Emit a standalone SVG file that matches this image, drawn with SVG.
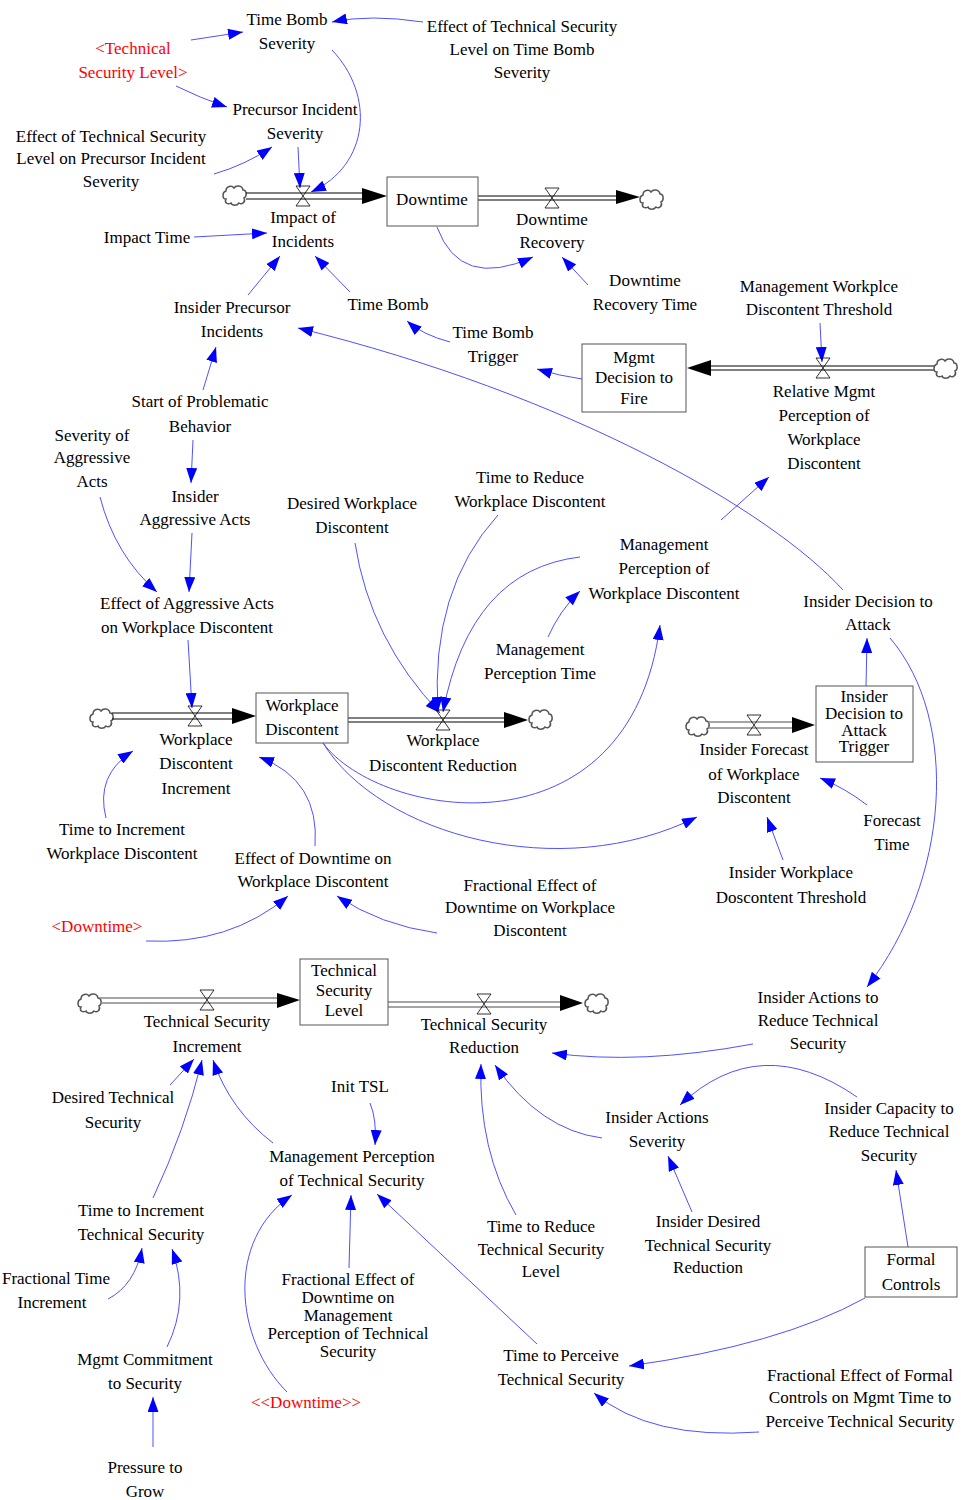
<svg xmlns="http://www.w3.org/2000/svg" width="961" height="1500" viewBox="0 0 961 1500" font-family="Liberation Serif, Times New Roman, serif">
<style>
text{font-family:"Liberation Serif","Times New Roman",serif;font-size:17px;text-anchor:middle;fill:#000}
.r{fill:#ff0000}
.c{fill:none;stroke:#5050ff;stroke-width:1;marker-end:url(#a)}
.box{fill:#fff;stroke:#555;stroke-width:1}
.pipe{stroke:#000;stroke-width:1;fill:none}
.gpipe{stroke:#888;stroke-width:1.5;fill:none}
.head{fill:#000}
.valve{fill:none;stroke:#000;stroke-width:0.8}
.cloud{fill:#fff;stroke:#555;stroke-width:1.5}
</style>
<defs>
<marker id="a" markerUnits="userSpaceOnUse" markerWidth="15" markerHeight="11" viewBox="0 0 15 11" refX="15" refY="5.5" orient="auto"><path d="M0,0 L15,5.5 L0,11 Z" fill="#0000ff"/></marker>
<path id="cl" class="cloud" d="M-8,4 C-12,4 -12,-3 -8,-4 C-8,-9 -2,-10 0,-7 C2,-10 8,-10 9,-5 C13,-5 13,2 10,3 C12,7 8,10 5,8 C3,11 -2,11 -3,8 C-6,10 -10,8 -8,4 Z"/>
<path id="vl" class="valve" d="M-7,-10 H7 L-7,10 H7 Z"/>
</defs>
<rect width="961" height="1500" fill="#fff"/>

<g id="flows">
<use href="#cl" x="234" y="195"/>
<path class="pipe" d="M246,193 H362 M246,199 H362"/>
<polygon class="head" points="362,188 387,196 362,204"/>
<path class="pipe" d="M478,196 H616 M478,200 H616"/>
<polygon class="head" points="616,190 640,197 616,204"/>
<use href="#cl" x="651" y="199"/>
<path class="pipe" d="M711,366 H934 M711,370 H934"/>
<polygon class="head" points="711,360 687,368 711,376"/>
<use href="#cl" x="945" y="368"/>
<use href="#cl" x="101" y="718"/>
<path class="pipe" d="M112,713 H232 M112,719 H232"/>
<polygon class="head" points="232,708 256,716 232,724"/>
<path class="pipe" d="M348,718 H504 M348,722 H504"/>
<polygon class="head" points="504,712 528,720 504,728"/>
<use href="#cl" x="540" y="719"/>
<use href="#cl" x="697" y="726"/>
<path class="gpipe" d="M708,722 H792 M708,728 H792"/>
<polygon class="head" points="792,717 815,725 792,733"/>
<use href="#cl" x="89" y="1003"/>
<path class="gpipe" d="M100,998 H277 M100,1003 H277"/>
<polygon class="head" points="277,993 300,1000 277,1008"/>
<path class="gpipe" d="M388,1002 H560 M388,1007 H560"/>
<polygon class="head" points="560,995 583,1003 560,1011"/>
<use href="#cl" x="596" y="1003"/>
</g>

<g id="connectors">
<path class="c" d="M191,40 L243,32"/>
<path class="c" d="M423,22 Q370,14 332,22"/>
<path class="c" d="M176,86 Q200,98 227,107"/>
<path class="c" d="M214,174 Q245,165 272,147"/>
<path class="c" d="M332,50 C375,95 370,165 311,192"/>
<path class="c" d="M298,147 L300,188"/>
<path class="c" d="M194,237 L267,233"/>
<path class="c" d="M248,295 L280,256"/>
<path class="c" d="M350,292 L315,256"/>
<path class="c" d="M437,227 Q460,290 533,257"/>
<path class="c" d="M588,285 L562,257"/>
<path class="c" d="M450,342 Q423,335 407,321"/>
<path class="c" d="M582,379 Q560,376 537,369"/>
<path class="c" d="M843,590 C770,510 570,395 298,328"/>
<path class="c" d="M820,323 L822,362"/>
<path class="c" d="M203,390 L216,347"/>
<path class="c" d="M193,440 L191,483"/>
<path class="c" d="M100,497 Q115,555 157,592"/>
<path class="c" d="M192,533 L189,592"/>
<path class="c" d="M188,640 L192,708"/>
<path class="c" d="M355,543 Q370,640 440,713"/>
<path class="c" d="M498,515 Q430,590 438,712"/>
<path class="c" d="M580,557 Q470,570 443,712"/>
<path class="c" d="M548,637 Q560,610 580,591"/>
<path class="c" d="M721,520 L769,477"/>
<path class="c" d="M323,743 C380,820 630,860 660,625"/>
<path class="c" d="M323,743 C380,835 560,885 697,817"/>
<path class="c" d="M106,818 Q95,775 133,751"/>
<path class="c" d="M315,846 Q320,780 259,757"/>
<path class="c" d="M146,941 Q230,945 288,896"/>
<path class="c" d="M437,933 Q380,925 337,896"/>
<path class="c" d="M866,687 L867,638"/>
<path class="c" d="M867,805 Q845,788 820,778"/>
<path class="c" d="M783,860 L767,817"/>
<path class="c" d="M890,638 C960,720 950,880 867,987"/>
<path class="c" d="M753,1044 Q640,1065 552,1053"/>
<path class="c" d="M857,1097 Q760,1030 680,1105"/>
<path class="c" d="M602,1138 Q540,1130 495,1065"/>
<path class="c" d="M516,1215 Q478,1150 481,1064"/>
<path class="c" d="M692,1212 L668,1156"/>
<path class="c" d="M908,1247 L896,1170"/>
<path class="c" d="M865,1298 Q780,1345 629,1366"/>
<path class="c" d="M759,1432 Q650,1440 594,1393"/>
<path class="c" d="M537,1344 L377,1194"/>
<path class="c" d="M349,1268 L351,1195"/>
<path class="c" d="M287,1392 C235,1340 225,1240 292,1195"/>
<path class="c" d="M370,1103 Q377,1120 375,1145"/>
<path class="c" d="M273,1143 Q230,1110 213,1060"/>
<path class="c" d="M170,1085 L194,1059"/>
<path class="c" d="M153,1198 Q185,1130 202,1060"/>
<path class="c" d="M108,1299 Q135,1285 142,1248"/>
<path class="c" d="M167,1347 Q190,1300 172,1249"/>
<path class="c" d="M153,1447 L153,1397"/>
</g>

<g id="n_tbs"><text x="287" y="25">Time Bomb<tspan x="287" y="49">Severity</tspan></text></g>
<g id="n_tsl_shadow"><text class="r" x="133" y="54">&lt;Technical<tspan x="133" y="78">Security Level&gt;</tspan></text></g>
<g id="n_etb"><text x="522" y="32">Effect of Technical Security<tspan x="522" y="55">Level on Time Bomb</tspan><tspan x="522" y="78">Severity</tspan></text></g>
<g id="n_pis"><text x="295" y="115">Precursor Incident<tspan x="295" y="139">Severity</tspan></text></g>
<g id="n_epis"><text x="111" y="142">Effect of Technical Security<tspan x="111" y="164">Level on Precursor Incident</tspan><tspan x="111" y="187">Severity</tspan></text></g>
<g id="n_downtime"><rect class="box" x="387" y="177" width="91" height="49"/><text x="432" y="205">Downtime</text></g>
<g id="n_ioi"><use href="#vl" x="303" y="196"/><text x="303" y="223">Impact of<tspan x="303" y="247">Incidents</tspan></text></g>
<g id="n_dr"><use href="#vl" x="552" y="198"/><text x="552" y="225">Downtime<tspan x="552" y="248">Recovery</tspan></text></g>
<g id="n_it"><text x="147" y="243">Impact Time</text></g>
<g id="n_ipi"><text x="232" y="313">Insider Precursor<tspan x="232" y="337">Incidents</tspan></text></g>
<g id="n_tb"><text x="388" y="310">Time Bomb</text></g>
<g id="n_drt"><text x="645" y="286">Downtime<tspan x="645" y="310">Recovery Time</tspan></text></g>
<g id="n_mwdt"><text x="819" y="292">Management Workplce<tspan x="819" y="315">Discontent Threshold</tspan></text></g>
<g id="n_tbt"><text x="493" y="338">Time Bomb<tspan x="493" y="362">Trigger</tspan></text></g>
<g id="n_mdf"><rect class="box" x="582" y="344" width="104" height="68"/><text x="634" y="363">Mgmt<tspan x="634" y="383">Decision to</tspan><tspan x="634" y="404">Fire</tspan></text></g>
<g id="n_rmp"><use href="#vl" x="823" y="368"/><text x="824" y="397">Relative Mgmt<tspan x="824" y="421">Perception of</tspan><tspan x="824" y="445">Workplace</tspan><tspan x="824" y="469">Discontent</tspan></text></g>
<g id="n_spb"><text x="200" y="407">Start of Problematic<tspan x="200" y="432">Behavior</tspan></text></g>
<g id="n_sev"><text x="92" y="441">Severity of<tspan x="92" y="463">Aggressive</tspan><tspan x="92" y="487">Acts</tspan></text></g>
<g id="n_iaa"><text x="195" y="502">Insider<tspan x="195" y="525">Aggressive Acts</tspan></text></g>
<g id="n_dwd"><text x="352" y="509">Desired Workplace<tspan x="352" y="533">Discontent</tspan></text></g>
<g id="n_trwd"><text x="530" y="483">Time to Reduce<tspan x="530" y="507">Workplace Discontent</tspan></text></g>
<g id="n_mpwd"><text x="664" y="550">Management<tspan x="664" y="574">Perception of</tspan><tspan x="664" y="599">Workplace Discontent</tspan></text></g>
<g id="n_ida"><text x="868" y="607">Insider Decision to<tspan x="868" y="630">Attack</tspan></text></g>
<g id="n_eaa"><text x="187" y="609">Effect of Aggressive Acts<tspan x="187" y="633">on Workplace Discontent</tspan></text></g>
<g id="n_mpt"><text x="540" y="655">Management<tspan x="540" y="679">Perception Time</tspan></text></g>
<g id="n_wd"><rect class="box" x="256" y="693" width="92" height="50"/><text x="302" y="711">Workplace<tspan x="302" y="735">Discontent</tspan></text></g>
<g id="n_wdi"><use href="#vl" x="195" y="716"/><text x="196" y="745">Workplace<tspan x="196" y="769">Discontent</tspan><tspan x="196" y="794">Increment</tspan></text></g>
<g id="n_wdr"><use href="#vl" x="443" y="720"/><text x="443" y="746">Workplace<tspan x="443" y="771">Discontent Reduction</tspan></text></g>
<g id="n_idat"><rect class="box" x="816" y="686" width="97" height="76"/><text x="864" y="702">Insider<tspan x="864" y="719">Decision to</tspan><tspan x="864" y="736">Attack</tspan><tspan x="864" y="752">Trigger</tspan></text></g>
<g id="n_ifwd"><use href="#vl" x="754" y="725"/><text x="754" y="755">Insider Forecast<tspan x="754" y="780">of Workplace</tspan><tspan x="754" y="803">Discontent</tspan></text></g>
<g id="n_ft"><text x="892" y="826">Forecast<tspan x="892" y="850">Time</tspan></text></g>
<g id="n_tiwd"><text x="122" y="835">Time to Increment<tspan x="122" y="859">Workplace Discontent</tspan></text></g>
<g id="n_edwd"><text x="313" y="864">Effect of Downtime on<tspan x="313" y="887">Workplace Discontent</tspan></text></g>
<g id="n_iwdt"><text x="791" y="878">Insider Workplace<tspan x="791" y="903">Doscontent Threshold</tspan></text></g>
<g id="n_fedwd"><text x="530" y="891">Fractional Effect of<tspan x="530" y="913">Downtime on Workplace</tspan><tspan x="530" y="936">Discontent</tspan></text></g>
<g id="n_dt_shadow"><text class="r" x="97" y="932">&lt;Downtime&gt;</text></g>
<g id="n_tslv"><rect class="box" x="300" y="959" width="88" height="66"/><text x="344" y="976">Technical<tspan x="344" y="996">Security</tspan><tspan x="344" y="1016">Level</tspan></text></g>
<g id="n_tsi"><use href="#vl" x="207" y="1000"/><text x="207" y="1027">Technical Security<tspan x="207" y="1052">Increment</tspan></text></g>
<g id="n_tsr"><use href="#vl" x="484" y="1004"/><text x="484" y="1030">Technical Security<tspan x="484" y="1053">Reduction</tspan></text></g>
<g id="n_iarts"><text x="818" y="1003">Insider Actions to<tspan x="818" y="1026">Reduce Technical</tspan><tspan x="818" y="1049">Security</tspan></text></g>
<g id="n_dts"><text x="113" y="1103">Desired Technical<tspan x="113" y="1128">Security</tspan></text></g>
<g id="n_init"><text x="360" y="1092">Init TSL</text></g>
<g id="n_ias"><text x="657" y="1123">Insider Actions<tspan x="657" y="1147">Severity</tspan></text></g>
<g id="n_icrts"><text x="889" y="1114">Insider Capacity to<tspan x="889" y="1137">Reduce Technical</tspan><tspan x="889" y="1161">Security</tspan></text></g>
<g id="n_mpts"><text x="352" y="1162">Management Perception<tspan x="352" y="1186">of Technical Security</tspan></text></g>
<g id="n_titsec"><text x="141" y="1216">Time to Increment<tspan x="141" y="1240">Technical Security</tspan></text></g>
<g id="n_trtsl"><text x="541" y="1232">Time to Reduce<tspan x="541" y="1255">Technical Security</tspan><tspan x="541" y="1277">Level</tspan></text></g>
<g id="n_idtsr"><text x="708" y="1227">Insider Desired<tspan x="708" y="1251">Technical Security</tspan><tspan x="708" y="1273">Reduction</tspan></text></g>
<g id="n_fc"><rect class="box" x="865" y="1247" width="92" height="50"/><text x="911" y="1265">Formal<tspan x="911" y="1290">Controls</tspan></text></g>
<g id="n_fti"><text x="56" y="1284">Fractional Time<tspan x="52" y="1308">Increment</tspan></text></g>
<g id="n_fedmp"><text x="348" y="1285">Fractional Effect of<tspan x="348" y="1303">Downtime on</tspan><tspan x="348" y="1321">Management</tspan><tspan x="348" y="1339">Perception of Technical</tspan><tspan x="348" y="1357">Security</tspan></text></g>
<g id="n_mcs"><text x="145" y="1365">Mgmt Commitment<tspan x="145" y="1389">to Security</tspan></text></g>
<g id="n_ttpts"><text x="561" y="1361">Time to Perceive<tspan x="561" y="1385">Technical Security</tspan></text></g>
<g id="n_fefc"><text x="860" y="1381">Fractional Effect of Formal<tspan x="860" y="1403">Controls on Mgmt Time to</tspan><tspan x="860" y="1427">Perceive Technical Security</tspan></text></g>
<g id="n_dt2"><text class="r" x="306" y="1408">&lt;&lt;Downtime&gt;&gt;</text></g>
<g id="n_ptg"><text x="145" y="1473">Pressure to<tspan x="145" y="1497">Grow</tspan></text></g>
</svg>
